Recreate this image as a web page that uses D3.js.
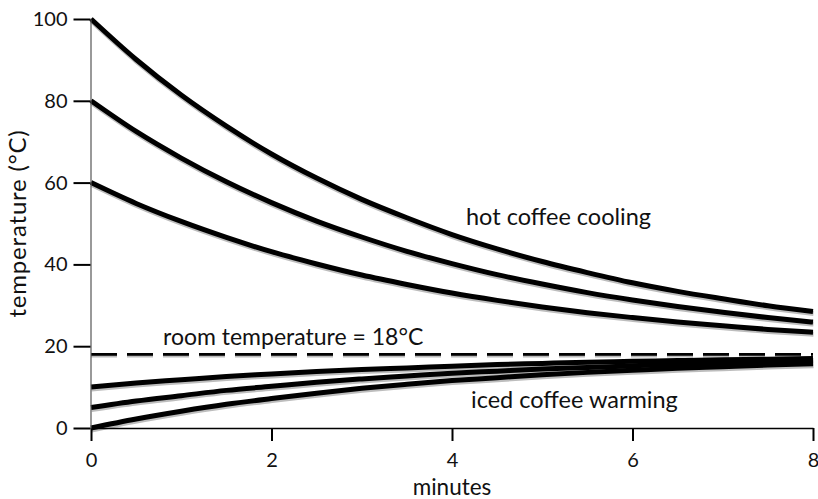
<!DOCTYPE html>
<html>
<head>
<meta charset="utf-8">
<script src="https://cdn.jsdelivr.net/npm/d3@7"></script>
<style>
  html, body { margin: 0; padding: 0; background: #fff; }
  svg text { font-family: Lato, "Open Sans", sans-serif; fill: #111; }
</style>
</head>
<body>
<svg id="chart" width="818" height="499"></svg>
<script>
// ---- data ----
const minutes = [0, 0.5, 1, 1.5, 2, 2.5, 3, 3.5, 4, 4.5, 5, 5.5, 6, 6.5, 7, 7.5, 8];
const hot100 = [100, 90.1, 81.4, 73.8, 67.0, 61.1, 55.9, 51.4, 47.3, 43.8, 40.7, 38.0, 35.5, 33.4, 31.6, 29.9, 28.5];
const hot80  = [80, 72.5, 66.0, 60.2, 55.1, 50.6, 46.7, 43.2, 40.2, 37.5, 35.2, 33.1, 31.3, 29.7, 28.3, 27.0, 25.9];
const hot60  = [60, 54.9, 50.5, 46.6, 43.1, 40.1, 37.4, 35.1, 33.0, 31.2, 29.6, 28.2, 27.0, 25.9, 25.0, 24.1, 23.4];
const iced10 = [10, 11.0, 11.8, 12.6, 13.2, 13.8, 14.3, 14.7, 15.1, 15.5, 15.8, 16.1, 16.3, 16.5, 16.7, 16.8, 17.0];
const iced5  = [5, 6.6, 7.9, 9.2, 10.2, 11.2, 12.0, 12.7, 13.4, 13.9, 14.4, 14.8, 15.2, 15.6, 15.8, 16.1, 16.3];
const iced0  = [0, 2.2, 4.1, 5.8, 7.2, 8.5, 9.7, 10.7, 11.6, 12.3, 13.0, 13.6, 14.1, 14.6, 15.0, 15.4, 15.7];
const roomTemp = 18;
const xTicks = [0, 2, 4, 6, 8];
const yTicks = [0, 20, 40, 60, 80, 100];
const labels = {
  hot: "hot coffee cooling",
  iced: "iced coffee warming",
  room: "room temperature = 18°C",
  x: "minutes",
  y: "temperature (°C)"
};

// ---- layout ----
const svg = d3.select("#chart");
const margin = { left: 91, right: 5, top: 19, bottom: 71 };
const W = 818, H = 499;
const x = d3.scaleLinear().domain([0, 8]).range([margin.left, W - margin.right]);
const y = d3.scaleLinear().domain([0, 100]).range([H - margin.bottom, margin.top]);

const series = [hot100, hot80, hot60, iced10, iced5, iced0];
const line = d3.line()
  .x((d, i) => x(minutes[i]))
  .y(d => y(d))
  .curve(d3.curveMonotoneX);

// room temperature dashed line (shadow + line)
const roomG = svg.append("g");
roomG.append("line")
  .attr("x1", x(0)).attr("x2", x(8))
  .attr("y1", y(roomTemp) + 1.5).attr("y2", y(roomTemp) + 1.5)
  .attr("stroke", "#bbb").attr("stroke-width", 3)
  .attr("stroke-dasharray", "26,10");
roomG.append("line")
  .attr("x1", x(0)).attr("x2", x(8))
  .attr("y1", y(roomTemp)).attr("y2", y(roomTemp))
  .attr("stroke", "#000").attr("stroke-width", 2.8)
  .attr("stroke-dasharray", "26,10");

// curves: gray shadow then black
svg.append("g").selectAll("path").data(series).join("path")
  .attr("d", line)
  .attr("fill", "none")
  .attr("stroke", "#bdbdbd")
  .attr("stroke-width", 5)
  .attr("transform", "translate(0.5,2)");
svg.append("g").selectAll("path").data(series).join("path")
  .attr("d", line)
  .attr("fill", "none")
  .attr("stroke", "#000")
  .attr("stroke-width", 5);

// axes
const xAxis = svg.append("g")
  .attr("transform", `translate(0,${y(0)})`)
  .call(d3.axisBottom(x).tickValues(xTicks).tickSize(13).tickSizeOuter(0).tickPadding(12).tickFormat(d3.format("d")));
xAxis.select(".domain").attr("stroke", "#000").attr("stroke-width", 1.5);
xAxis.selectAll(".tick line").attr("stroke", "#000").attr("stroke-width", 2);
xAxis.selectAll(".tick text").style("font-size", "20px").style("font-family", "Lato, sans-serif").attr("fill", "#111");

const yAxis = svg.append("g")
  .attr("transform", `translate(${x(0) - 0.5},0)`)
  .call(d3.axisLeft(y).tickValues(yTicks).tickSize(17).tickSizeOuter(0).tickPadding(6).tickFormat(d3.format("d")));
yAxis.select(".domain").attr("stroke", "#555").attr("stroke-width", 1.2);
yAxis.selectAll(".tick line").attr("stroke", "#000").attr("stroke-width", 2);
yAxis.selectAll(".tick text").style("font-size", "20px").style("font-family", "Lato, sans-serif").attr("fill", "#111");

// labels
svg.append("text").attr("x", 466).attr("y", 225)
  .style("font-size", "23.5px").text(labels.hot);
svg.append("text").attr("x", 471).attr("y", 408)
  .style("font-size", "23.5px").text(labels.iced);
svg.append("text").attr("x", 163).attr("y", 345)
  .style("font-size", "23px").text(labels.room);
svg.append("text").attr("x", x(4)).attr("y", 495)
  .attr("text-anchor", "middle").style("font-size", "22.5px").text(labels.x);
svg.append("text")
  .attr("transform", `translate(26,${(y(0) + y(100)) / 2}) rotate(-90)`)
  .attr("text-anchor", "middle").style("font-size", "24px")
  .style("letter-spacing", "0.8px").text(labels.y);
</script>
</body>
</html>
